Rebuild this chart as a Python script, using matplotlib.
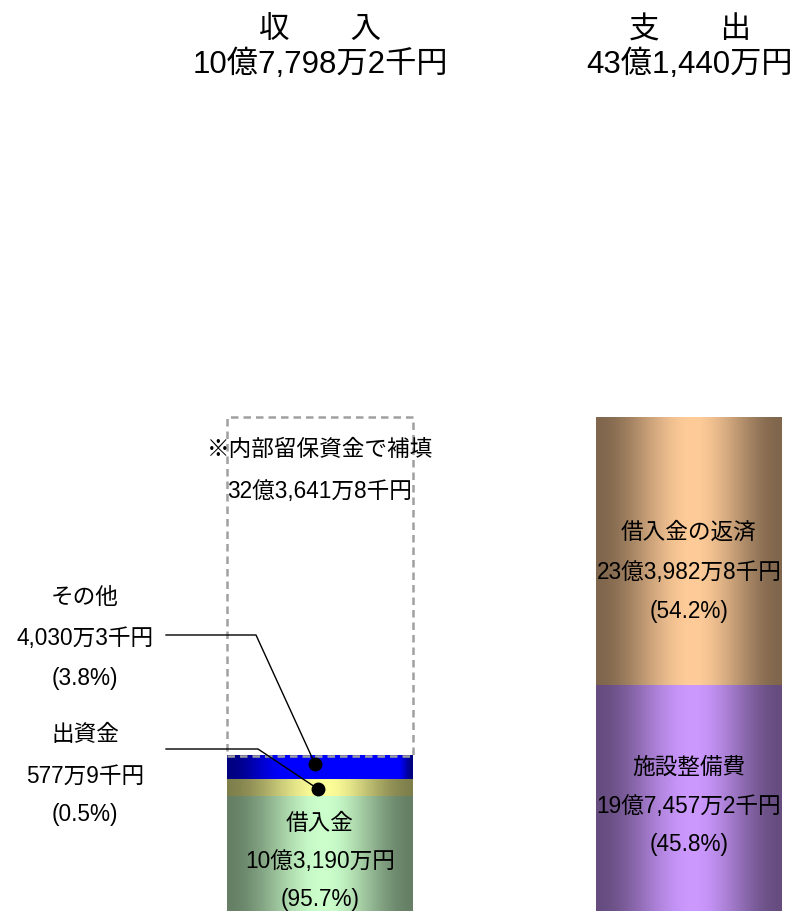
import numpy as np
import matplotlib
matplotlib.use("Agg")
import matplotlib.pyplot as plt
from matplotlib.colors import to_rgb

plt.rcParams['font.family'] = ['Liberation Sans', 'Noto Sans CJK JP', 'DejaVu Sans']

# ----------------------------------------
# Data (万円). Left-bar heights are as drawn in the picture
# (small items are enlarged so they can be seen).
# ----------------------------------------
income_names = ["借入金", "出資金", "その他", "内部留保資金"]
income_drawn = [100440, 14850, 20090, 296060]
income_colors = ["#CCFFCC", "#FFFF99", "#0000FF", None]

expense_names = ["施設整備費", "借入金の返済"]
expense_values = [197457.2, 233982.8]
expense_colors = ["#CC99FF", "#FFCC99"]

total_label = ["10億7,798万2千円", "43億1,440万円"]
headers = ["収　　入", "支　　出"]

W, H = 796, 912
scale_top = 431440 / 494 * H      # data value at the top edge of the figure

fig = plt.figure(figsize=(W / 100, H / 100), dpi=100)
ax = fig.add_axes([0, 0, 1, 1])
ax.set_axis_off()


def fy(y):
    # pixel row (from top) -> axes fraction
    return (H - y) / H


def gradient_fill(patch, color, peak=0.52, plateau=0.0):
    x, y = patch.get_x(), patch.get_y()
    w, h = patch.get_width(), patch.get_height()
    t = np.linspace(0, 1, 300)
    left = np.clip(t / (peak - plateau / 2), 0, 1)
    right = np.clip((1 - t) / (1 - peak - plateau / 2), 0, 1)
    s = np.minimum(left, right)
    s = s * s * (3 - 2 * s)
    k = 0.5 + 0.5 * s
    rgb = np.array(to_rgb(color))
    img = (k[:, None] * rgb[None, :])[None, :, :]
    ax.imshow(img, extent=[x, x + w, y, y + h], aspect='auto',
              interpolation='bilinear', zorder=1)


# ---- income bar ----
bottom = 0
for name, v, c in zip(income_names, income_drawn, income_colors):
    if c is None:
        ax.bar(320, v, width=186, bottom=bottom, facecolor='none',
               edgecolor='#A0A0A0', linestyle=(0, (3, 2)), linewidth=1.8, zorder=3)
    else:
        b = ax.bar(320, v, width=186, bottom=bottom, color='none', linewidth=0)[0]
        if name == "その他":
            gradient_fill(b, c, peak=0.62, plateau=0.6)
        else:
            gradient_fill(b, c)
    bottom += v

# ---- expense bar ----
bottom = 0
for name, v, c in zip(expense_names, expense_values, expense_colors):
    b = ax.bar(689, v, width=186, bottom=bottom, color='none', linewidth=0)[0]
    gradient_fill(b, c)
    bottom += v

ax.set_xlim(0, W)
ax.set_ylim(0, scale_top)

# ---- headers ----
for xc, h, t in [(320, headers[0], total_label[0]), (690, headers[1], total_label[1])]:
    ax.text(xc / W, fy(31), h, transform=ax.transAxes, ha='center', va='center', fontsize=22)
    ax.text(xc / W, fy(65), t, transform=ax.transAxes, ha='center', va='center', fontsize=22.5)

fs = 16.3


def lines(xc, ys, texts):
    for y, s in zip(ys, texts):
        ax.text(xc / W, fy(y), s, transform=ax.transAxes, ha='center',
                va='center', fontsize=fs, zorder=5)


lines(320, [449, 492], ["※内部留保資金で補填", "32億3,641万8千円"])
lines(320, [824, 862, 900], ["借入金", "10億3,190万円", "(95.7%)"])
lines(689, [532, 572, 612], ["借入金の返済", "23億3,982万8千円", "(54.2%)"])
lines(689, [767, 807, 845], ["施設整備費", "19億7,457万2千円", "(45.8%)"])
lines(85, [597, 638, 679], ["その他", "4,030万3千円", "(3.8%)"])
lines(85, [735, 776, 815], ["出資金", "577万9千円", "(0.5%)"])

# ---- leader lines ----
for pts in [[(166, 636), (256, 636), (315, 765)],
            [(166, 750), (258, 750), (318, 790)]]:
    xs = [p[0] / W for p in pts]
    ys = [fy(p[1]) for p in pts]
    ax.plot(xs, ys, color='black', linewidth=1, transform=ax.transAxes, zorder=6)
    ax.plot(xs[-1], ys[-1], 'o', color='black', markersize=9,
            transform=ax.transAxes, zorder=7)

fig.savefig("out.png", dpi=100)
